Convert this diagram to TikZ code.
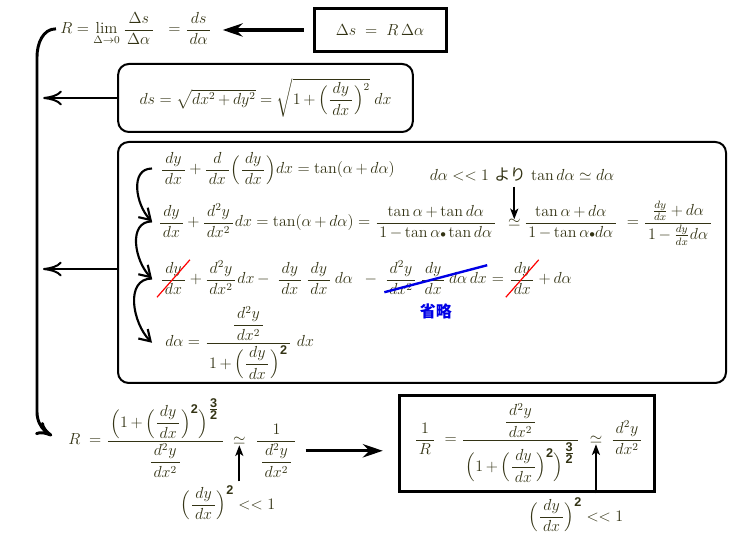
\documentclass[tikz,border=0pt]{standalone}
\usepackage{amsmath,amssymb}
\usepackage{fontspec}
\usetikzlibrary{arrows.meta,positioning}
\newfontfamily\cjk{Noto Sans CJK JP}
\newfontfamily\bsans{Liberation Sans}
\definecolor{ink}{rgb}{0.2,0.2,0.08}
\definecolor{omitblue}{rgb}{0,0,0.9}
\nulldelimiterspace=1.5pt
\medmuskip=3mu plus 2mu minus 3mu
\let\plainfrac\dfrac
\renewcommand{\dfrac}[2]{\plainfrac{\kern2pt#1\kern2pt}{\kern2pt#2\kern2pt}}
\newcommand{\bt}[1]{\text{\fontsize{9.5}{10}\bsans\bfseries\selectfont #1}}
\newcommand{\dydx}{\dfrac{dy}{dx}}
\newcommand{\ddy}{\dfrac{d^2y}{dx^2}}
\newcommand{\pdydx}{\Bigl(\dydx\Bigr)}
\newcommand{\half}{\tfrac{\bt{3}}{\bt{2}}}

\begin{document}
\begin{tikzpicture}[x=0.75pt,y=0.75pt,
  every node/.style={text=ink,font=\fontsize{12}{14}\selectfont},
  heavy/.style={line width=2.4pt,-{Stealth[length=15pt,width=10pt,inset=5pt]}},
  side/.style={line width=1.5pt,-{To[length=14pt,width=11pt]}},
  curl/.style={line width=1.6pt,-{Straight Barb[length=8pt,width=10pt]},looseness=1.1},
  upar/.style={line width=1.5pt,-{Stealth[length=8pt,width=6pt,inset=2pt]}},
  thickbox/.style={draw,line width=2.25pt},
  roundbox/.style={draw,line width=1.5pt,rounded corners=8pt},
  piece/.style={inner sep=0pt,anchor=base west}
]
\useasboundingbox (0,0) rectangle (732,542);
% top line
\node [thickbox,minimum width=99pt,minimum height=32pt] (dsR) at (380,512) {$\Delta s\;=\;R\,\Delta\alpha$};
\node [piece] (lim) at (60,508) {$R=\lim\limits_{\Delta\to0}\dfrac{\Delta s}{\Delta\alpha}\;\;=\dfrac{ds}{d\alpha}$};
\draw [heavy,shorten <=6.75pt,shorten >=7.5pt] (dsR.west) -- (dsR.west -| lim.east);

% ds box
\node [roundbox,minimum width=221pt,minimum height=51pt] (dsq) at (265.5,444)
  {$ds=\sqrt{dx^2+dy^2}=\sqrt{1+\pdydx^{2}}\;dx$};
\draw [side] (dsq.west) -- ++(-74,0);

% derivation box
\node [roundbox,minimum width=456pt,minimum height=180.75pt] (deriv) at (422,279.5) {};
\draw [side] ([yshift=-4.9pt]deriv.west) -- ++(-74,0);

\node [piece] (eqA) at (160,368) {$\dydx+\dfrac{d}{dx}\pdydx dx=\tan(\alpha+d\alpha)$};
\node [anchor=base] (note) at (522,361) {$d\alpha<<1$ {\cjk より} $\tan d\alpha\simeq d\alpha$};

\node [piece] (eqB1) at (158,315) {$\dydx+\ddy dx=\tan(\alpha+d\alpha)=\dfrac{\tan\alpha+\tan d\alpha}{1-\tan\alpha{\scriptstyle\bullet}\tan d\alpha}$};
\node [piece] (simA) at ([xshift=8pt]eqB1.base east) {$\simeq$};
\node [piece] (eqB2) at ([xshift=2pt]simA.base east) {$\dfrac{\tan\alpha+d\alpha}{1-\tan\alpha{\scriptstyle\bullet}d\alpha}\;=\dfrac{\frac{dy}{dx}+d\alpha}{1-\frac{dy}{dx}d\alpha}$};
\draw [upar] (note.south -| simA) -- (simA.north);

\node [piece] (c1) at (160,258) {$\dydx$};
\node [piece] (c2) at (c1.base east) {${}+\ddy dx-\;\dydx\,\dydx\,d\alpha\;\;-{}\;$};
\node [piece] (c3) at (c2.base east) {$\ddy\,\dydx\,d\alpha\,dx$};
\node [piece] (c4) at (c3.base east) {${}={}$};
\node [piece] (c5) at (c4.base east) {$\dydx$};
\node [piece] (c6) at (c5.base east) {${}+d\alpha$};
\draw [red,line width=0.9pt] ([shift={(-3,-2)}]c1.south west) -- ([shift={(3,2)}]c1.north east);
\draw [red,line width=0.9pt] ([shift={(-3,-2)}]c5.south west) -- ([shift={(3,2)}]c5.north east);
\draw [omitblue,line width=1.8pt] ([shift={(0,3)}]c3.south west) -- ([shift={(0,-5)}]c3.north east);
\node [text=omitblue,font=\cjk\bfseries\fontsize{12}{14}\selectfont,below=3pt of c3] (omit) {省略};

\node [piece] (eqD) at (165,195) {$d\alpha=\dfrac{\ddy}{1+\pdydx^{\bt{2}}}\;dx$};

\draw [curl] ([shift={(-8,0)}]eqA.west) to[out=180,in=135] ([shift={(-6,0)}]eqB1.west);
\draw [curl] ([shift={(-6,0)}]eqB1.west) to[out=180,in=135] ([shift={(-8,0)}]c1.west);
\draw [curl] ([shift={(-8,0)}]c1.west) to[out=180,in=135] ([shift={(-13,0)}]eqD.west);

% result
\node [piece] (Rfull) at (68,97) {$R\;=\dfrac{\Bigl(1+\pdydx^{\bt{2}}\Bigr)^{\half}}{\ddy}$};
\node [piece] (simB) at ([xshift=6pt]Rfull.base east) {$\simeq$};
\node [piece] (Rapprox) at ([xshift=7pt]simB.base east) {$\dfrac{1}{\ddy}$};
\node (condA) at (228,39) {$\pdydx^{\bt{2}}<<1$};
\draw [upar] (condA.north -| simB) -- (simB.south);

\node [thickbox,minimum width=191.25pt,minimum height=72pt] (final) at (526.5,98) {};
\node [piece] (invR) at (414,98) {$\dfrac{1}{R}\;=\dfrac{\ddy}{\Bigl(1+\pdydx^{\bt{2}}\Bigr)^{\half}}$};
\node [piece] (simC) at ([xshift=7pt]invR.base east) {$\simeq$};
\node [piece] (curv) at ([xshift=6pt]simC.base east) {$\ddy$};
\node (condB) at (576,27) {$\pdydx^{\bt{2}}<<1$};
\draw [upar] (condB.north -| simC) -- (simC.south);

\draw [heavy,shorten <=6pt,shorten >=11pt] (Rapprox.east) -- (Rapprox.east -| final.west);

% spine
\coordinate (spineT) at (37,485);
\coordinate (spineB) at (37,130);
\draw [line width=2.2pt,-{To[length=12pt,width=11pt]},shorten >=13.8pt] ([xshift=-3pt]lim.west) to[out=180,in=90] (spineT) -- (spineB) to[out=-90,in=150] (Rfull.base west);
\end{tikzpicture}
\end{document}
